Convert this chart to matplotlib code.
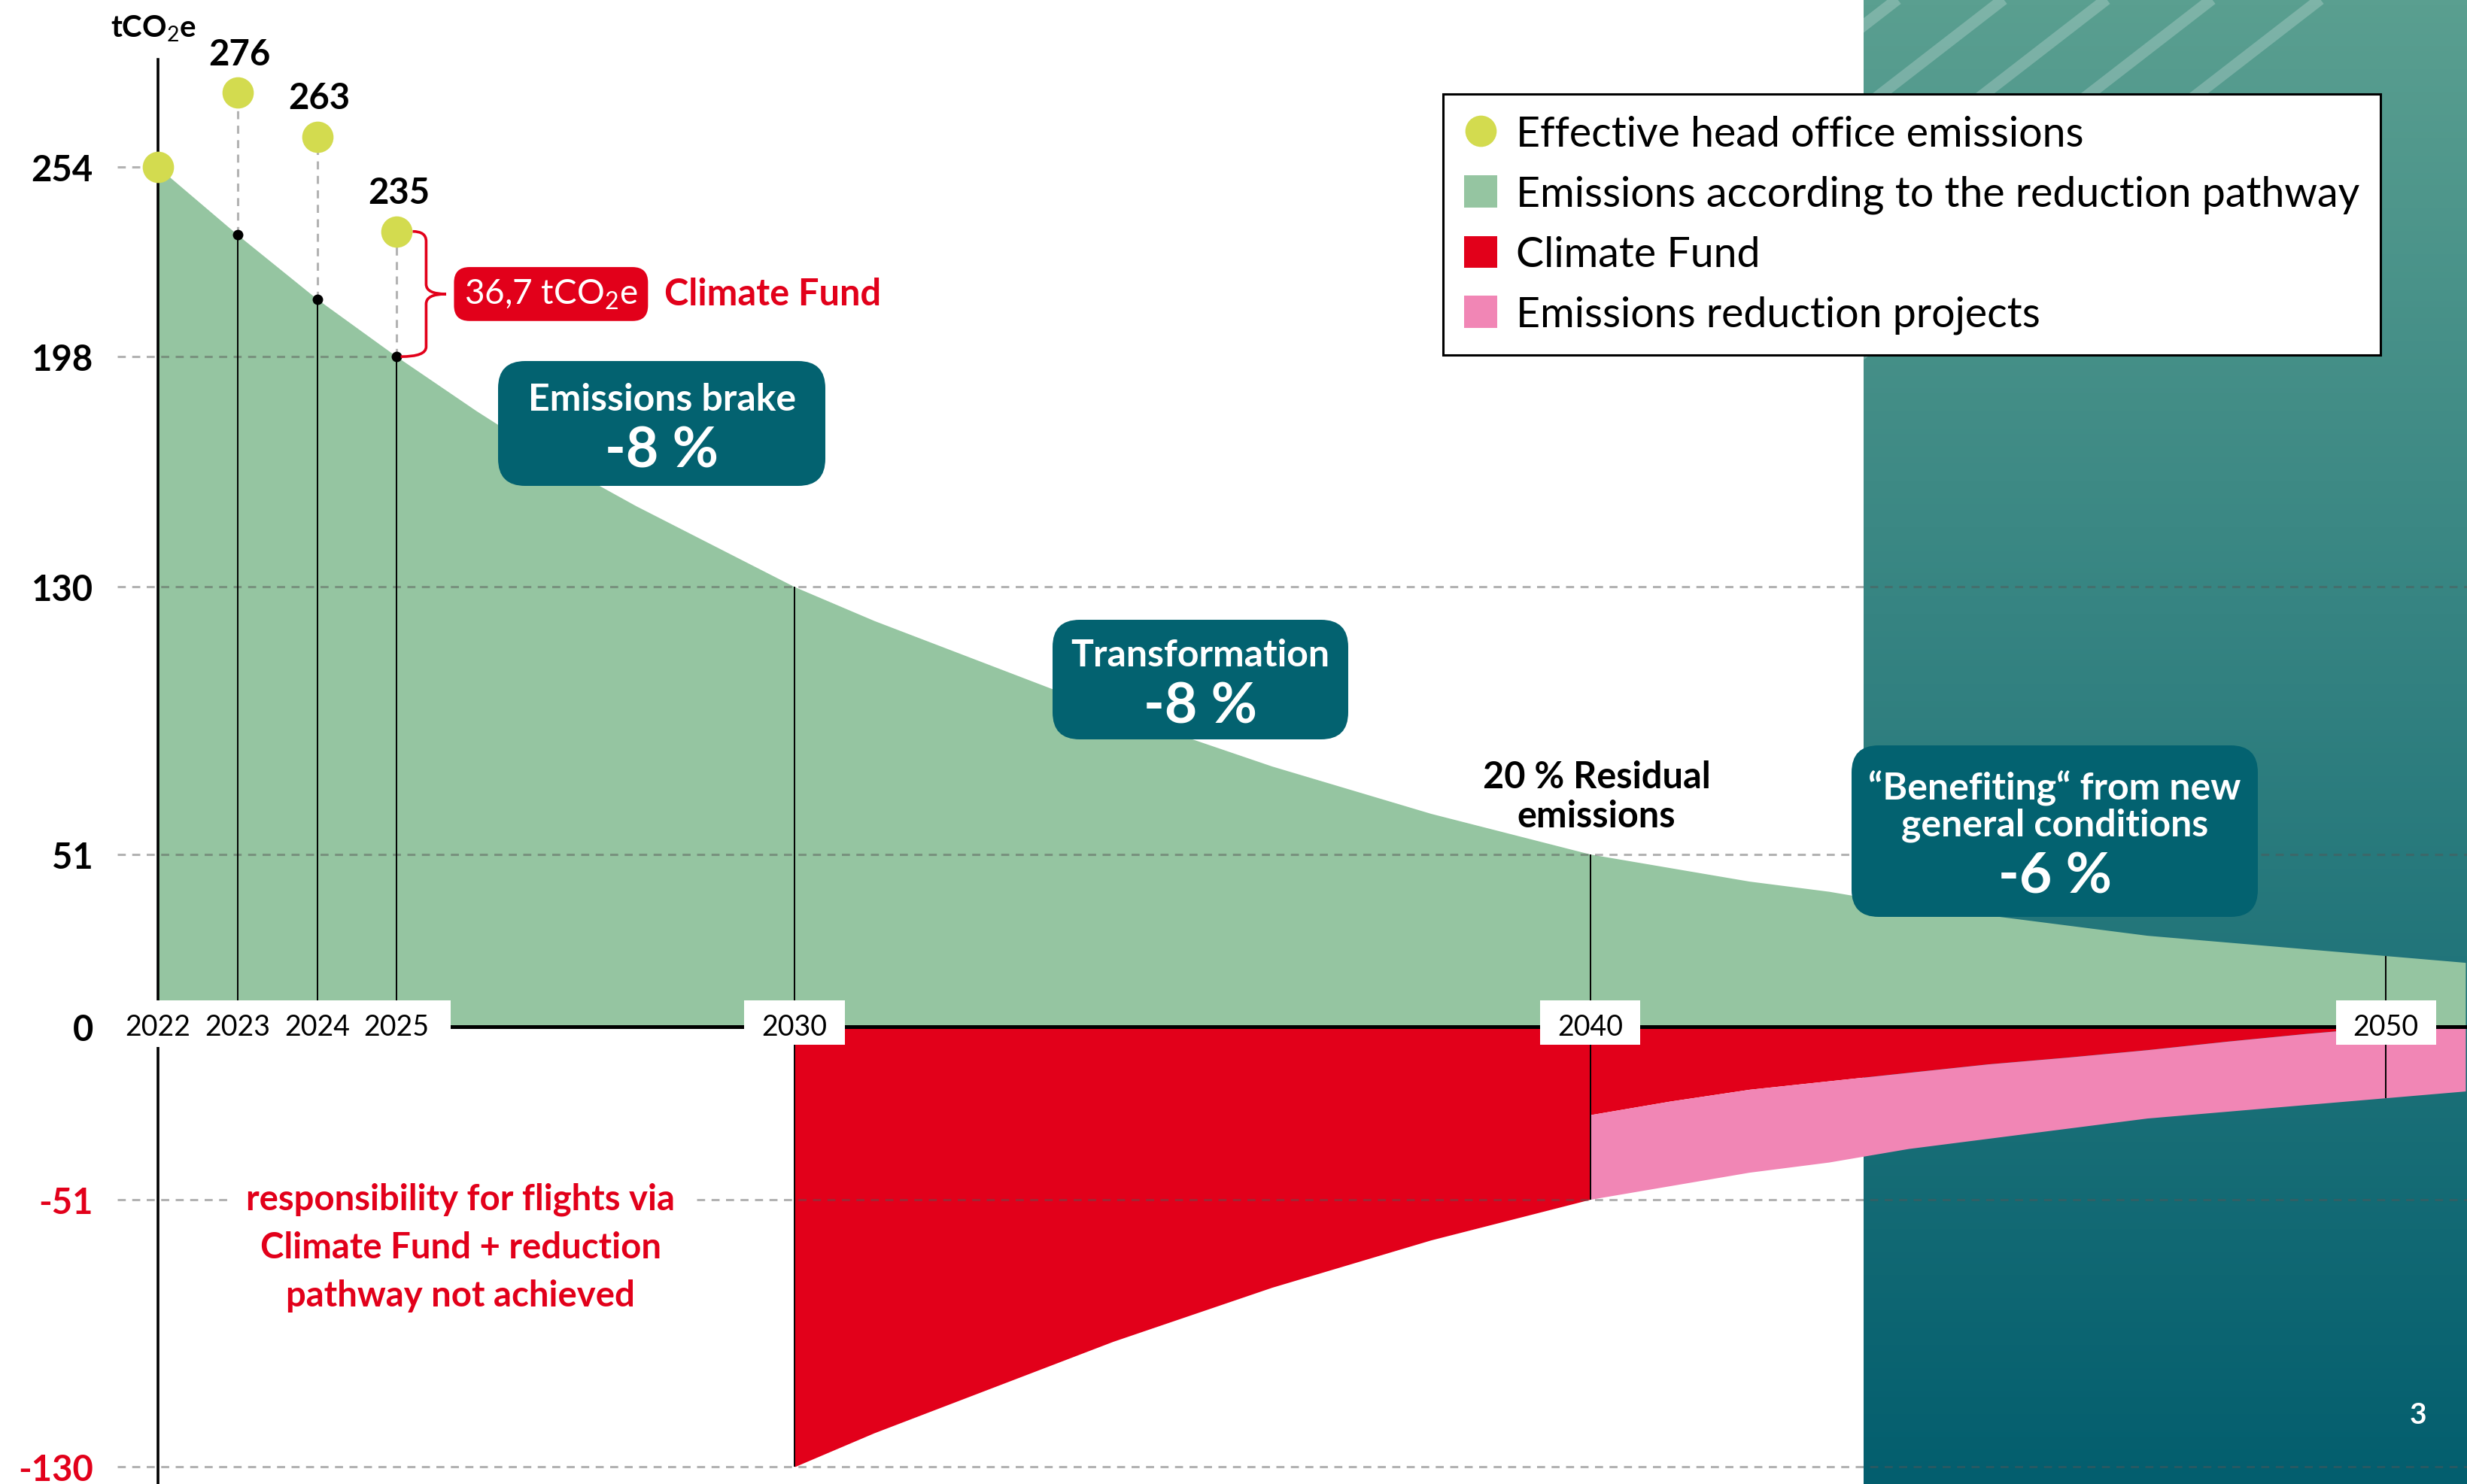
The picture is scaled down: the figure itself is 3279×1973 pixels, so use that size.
import numpy as np
import matplotlib.pyplot as plt
from matplotlib.colors import LinearSegmentedColormap
from matplotlib.patches import Rectangle, FancyBboxPatch, PathPatch, Patch
from matplotlib.lines import Line2D
from matplotlib.path import Path

plt.rcParams['font.family'] = ['Lato', 'DejaVu Sans']
plt.rcParams['mathtext.fontset'] = 'custom'
plt.rcParams['mathtext.rm'] = 'Lato'
plt.rcParams['mathtext.it'] = 'Lato:italic'
plt.rcParams['mathtext.bf'] = 'Lato:bold'

# Data
years = np.arange(2022, 2052)
pathway = np.array([254, 234, 215, 198, 182, 167, 154, 142, 130,
                    120, 111, 102, 93, 85, 77, 70, 63, 57, 51,
                    47, 43, 40, 36, 33, 30, 27, 25, 23, 21, 19])
effective_years = [2022, 2023, 2024, 2025]
effective = [254, 276, 263, 235]
# climate fund share after 2040 (remaining part = reduction projects)
share_years = np.arange(2040, 2052)
fund_share = np.array([26, 22, 18.5, 16, 13.5, 11, 9, 6.8, 4.3, 2, 0, 0])

ytick_vals = [254, 198, 130, 51, 0, -51, -130]
ytick_labels = ['254', '198', '130', '51', '0', '-51', '-130']
xtick_vals = [2022, 2023, 2024, 2025, 2030, 2040, 2050]
xtick_labels = [str(y) for y in xtick_vals]
stem_years = [2023, 2024, 2025, 2030, 2040, 2050]

legend_labels = ['Effective head office emissions',
                 'Emissions according to the reduction pathway',
                 'Climate Fund', 'Emissions reduction projects']

# colours
GREEN = '#95c5a1'
RED = '#e2001a'
PINK = '#f186b5'
DOT = '#d3db4f'
BOX = '#036270'

W, H = 3279, 1974
fig = plt.figure(figsize=(W / 100, H / 100), dpi=100)
ax = fig.add_axes([210 / W, 0, 1 - 210 / W, 1])
x_left, x_right = 2022, 2051.02
y_bot, y_top = -135.1, 303.6

# teal panel on the right
panel_x0 = 2043.44
grad = np.linspace(0, 1, 256)[:, None]
teal = LinearSegmentedColormap.from_list('teal', ['#5a9f90', '#035e6e'])
ax.imshow(grad, cmap=teal, extent=[panel_x0, x_right, y_bot, y_top],
          origin='upper', aspect='auto', zorder=0)
panel = Rectangle((panel_x0, y_bot), x_right - panel_x0, y_top - y_bot,
                  transform=ax.transData)
for xt in [2522, 2663, 2800, 2940, 3084]:
    x1, y1 = xt + 40, -31
    x2, y2 = 2440, (xt - 2440) * 0.774
    ln, = ax.plot([x1 / W, x2 / W], [1 - y1 / H, 1 - y2 / H],
                  transform=fig.transFigure, color='white', alpha=0.22,
                  lw=11, solid_capstyle='butt', zorder=0.5)
    ln.set_clip_path(panel)

# areas
ax.fill_between(years, pathway, 0, color=GREEN, lw=0, zorder=1)
m = (years >= 2030) & (years <= 2040)
ax.fill_between(years[m], -pathway[m], 0, color=RED, lw=0, zorder=1)
m2 = years >= 2040
ax.fill_between(share_years, -fund_share, 0, color=RED, lw=0, zorder=1)
ax.fill_between(share_years, -pathway[m2], -fund_share, color=PINK, lw=0, zorder=1)

# dashed guide lines
dash = (0, (3.5, 2.8))
for v in ytick_vals:
    if v == 0:
        continue
    end = years[0] if v == 254 else (years[3] if v == 198 else x_right)
    ax.hlines(v, 2021.49, end, colors='#555555', alpha=0.45, lw=2.2,
              linestyles=dash, zorder=1.5, clip_on=False)
ax.vlines(effective_years[1:], pathway[1:4], effective[1:], colors='#b3b3b3',
          lw=2.2, linestyles=dash, zorder=1.5)

# stems and baseline
stem_idx = [list(years).index(y) for y in stem_years]
tops = pathway[stem_idx]
bottoms = np.where(np.array(stem_years) >= 2030, -tops, 0)
ax.vlines(stem_years, bottoms, tops, colors='black', lw=1.4, zorder=2)
ax.plot(years[1:4], pathway[1:4], 'o', color='black', ms=9, zorder=3)
ax.hlines(0, years[0], x_right, colors='black', lw=3.6, zorder=2)

# white boxes behind year labels
ax.add_patch(Rectangle((2021.34, -6.0), 2025.68 - 2021.34, 13.8, fc='white',
                       ec='none', zorder=2.2, clip_on=False))
for yr in [2030, 2040, 2050]:
    ax.add_patch(Rectangle((yr - 0.63, -5.3), 1.26, 13.1, fc='white',
                           ec='none', zorder=2.2))

# effective emissions dots
ax.scatter(effective_years, effective, s=900, color=DOT, linewidths=0,
           zorder=4, clip_on=False)
for yr, v in zip(effective_years[1:], effective[1:]):
    ax.annotate(str(v), (yr, v), xytext=(2, 37), textcoords='offset points',
                ha='center', va='center', fontsize=34, fontweight='bold')

# brace to the climate fund label
top, bottom = effective[3], pathway[3]
mid = (top + bottom) / 2
xl, tip, ry = 2025.37, 2025.62, 2.9
verts = [(2025.2, top), (xl, top), (xl, top - ry), (xl, mid + ry), (xl, mid),
         (tip, mid), (xl, mid), (xl, mid - ry), (xl, bottom + ry), (xl, bottom),
         (2025.05, bottom)]
codes = [Path.MOVETO, Path.CURVE3, Path.CURVE3, Path.LINETO, Path.CURVE3,
         Path.CURVE3, Path.CURVE3, Path.CURVE3, Path.LINETO, Path.CURVE3,
         Path.CURVE3]
ax.add_patch(PathPatch(Path(verts, codes), fill=False, ec=RED, lw=2.6, zorder=3))
ax.text(2025.85, mid, '36,7 tCO$_2$e', color='white', fontsize=33,
        va='center', ha='left', zorder=5,
        bbox=dict(boxstyle='round,pad=0.3,rounding_size=0.45', fc=RED, ec='none'))
ax.text(2028.36, mid, 'Climate Fund', color=RED, fontsize=35,
        fontweight='bold', va='center', ha='left', zorder=5)

# axes styling
ax.set_xlim(x_left, x_right)
ax.set_ylim(y_bot, y_top)
ax.set_axisbelow(False)
for s in ['top', 'right', 'bottom']:
    ax.spines[s].set_visible(False)
ax.spines['bottom'].set_position(('data', 0))
ax.spines['left'].set_bounds(y_bot, 285.8)
ax.spines['left'].set_linewidth(2.6)
ax.spines['left'].set_zorder(2.1)
ax.set_xticks(xtick_vals, labels=xtick_labels, fontsize=27, va='center')
ax.tick_params(axis='x', length=0, pad=0)
ax.set_yticks(ytick_vals, labels=ytick_labels, fontsize=34, fontweight='bold')
ax.tick_params(axis='y', length=0, pad=62)
for lbl, v in zip(ax.get_yticklabels(), ytick_vals):
    if v < 0:
        lbl.set_color(RED)
ax.set_ylabel('tCO$_2$e', rotation=0, fontsize=29, fontweight='bold',
              ha='center', va='center')
ax.yaxis.set_label_coords(-0.002, 1 - 38 / H)


# annotation boxes (figure pixel layout)
def teal_box(x0, y0, x1, y1, r=36):
    p = FancyBboxPatch((x0 / W, 1 - y1 / H), (x1 - x0) / W, (y1 - y0) / H,
                       boxstyle=f'round,pad=0,rounding_size={r / W}',
                       mutation_aspect=W / H, fc=BOX, ec='none',
                       transform=fig.transFigure, zorder=6, clip_on=False)
    ax.add_patch(p)


def ftext(x, y, s, **kw):
    ax.text(x / W, 1 - y / H, s, transform=fig.transFigure, ha='center',
            va='center', zorder=7, **kw)


teal_box(662, 481, 1097, 647)
ftext(880, 531, 'Emissions brake', color='white', fontsize=36, fontweight='bold')
ftext(880, 600, '-8 %', color='white', fontsize=54, fontweight='bold')

teal_box(1399, 825, 1792, 984)
ftext(1595, 872, 'Transformation', color='white', fontsize=36, fontweight='bold')
ftext(1595, 940, '-8 %', color='white', fontsize=54, fontweight='bold')

teal_box(2461, 992, 3001, 1220)
ftext(2731, 1048, '\u201cBenefiting\u201c from new', color='white', fontsize=36,
      fontweight='bold')
ftext(2731, 1097, 'general conditions', color='white', fontsize=36,
      fontweight='bold')
ftext(2731, 1166, '-6 %', color='white', fontsize=54, fontweight='bold')

ftext(2122, 1034, '20 % Residual', fontsize=35, fontweight='bold')
ftext(2122, 1086, 'emissions', fontsize=35, fontweight='bold')

ax.text(612 / W, 1 - 1659 / H,
        'responsibility for flights via\nClimate Fund + reduction\npathway not achieved',
        transform=fig.transFigure, ha='center', va='center', multialignment='center',
        color=RED, fontsize=34, fontweight='bold', linespacing=1.55, zorder=3,
        bbox=dict(boxstyle='square,pad=0.45', fc='white', ec='none'))

ftext(3214, 1882, '3', color='white', fontsize=28, fontweight='bold')

# legend
handles = [Line2D([], [], marker='o', ls='none', markersize=30,
                  markerfacecolor=DOT, markeredgewidth=0),
           Patch(fc=GREEN), Patch(fc=RED), Patch(fc=PINK)]
leg = ax.legend(handles, legend_labels, loc='upper left',
                bbox_to_anchor=(1918 / W, 1 - 126 / H), bbox_transform=fig.transFigure,
                fontsize=40, frameon=True, fancybox=False, edgecolor='black',
                framealpha=1, borderpad=0.5, handlelength=0.8, handleheight=0.8,
                handletextpad=0.45, labelspacing=0.52, borderaxespad=0)
leg.get_frame().set_linewidth(2.2)
leg.set_zorder(8)

fig.savefig('out.png', dpi=100, facecolor='white')
